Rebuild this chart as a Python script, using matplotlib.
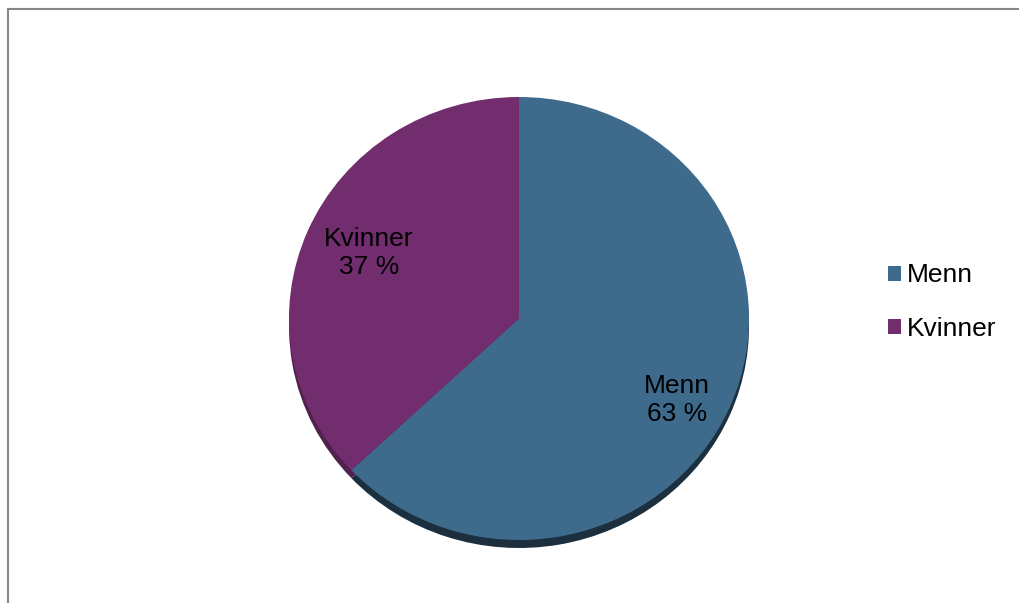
import matplotlib.pyplot as plt
from matplotlib.patches import Rectangle, Patch

plt.rcParams['font.family'] = ['Liberation Sans', 'DejaVu Sans']

# andel etter kjønn
labels = ['Menn', 'Kvinner']
shares = [63, 37]
colors = ['#3e6b8b', '#722d6f']
shadow_colors = ['#1b2f3e', '#52224f']

W, H = 1019, 603
fig = plt.figure(figsize=(W / 100, H / 100), dpi=100)


def px_axes(x0, y0, x1, y1):
    # axes placed by pixel box (y counted from the top)
    return fig.add_axes([x0 / W, 1 - y1 / H, (x1 - x0) / W, (y1 - y0) / H])


# grey chart frame, running off the right and bottom edges
fig.patches.append(Rectangle((8 / W, -0.5), 1.2, 1.5 - 9 / H, transform=fig.transFigure,
                             fill=False, edgecolor='#878787', lw=1.5))

# pie: horizontal radius 230 px, vertical 221.5 px -> slight tilt
rx, ry, pad = 230, 221.5, 20
cx, cy = 519, 318.5
ax = px_axes(cx - rx - pad, cy - ry - pad, cx + rx + pad, cy + ry + pad)

# dark rim below the pie
ax.pie(shares, colors=shadow_colors, startangle=90, counterclock=False,
       center=(0, -8 / ry), wedgeprops=dict(linewidth=0))
wedges, _, texts = ax.pie(
    shares, colors=colors, startangle=90, counterclock=False,
    autopct=lambda p: '', pctdistance=0.75, wedgeprops=dict(linewidth=0))

label_pos = {'Menn': (677, 400), 'Kvinner': (369, 253)}
for name, share, t in zip(labels, shares, texts):
    px, py = label_pos[name]
    t.set_text(f'{name}\n{share} %')
    t.set_position(((px - cx) / rx, (cy - py) / ry))
    t.set_fontsize(19)
    t.set_linespacing(1.2)
    t.set_ha('center')
    t.set_va('center')

ax.set_aspect('auto')
ax.set_xlim(-1 - pad / rx, 1 + pad / rx)
ax.set_ylim(-1 - pad / ry, 1 + pad / ry)
ax.axis('off')

handles = [Patch(facecolor=c, edgecolor='none') for c in colors]
fig.legend(handles, labels, loc='center left', bbox_to_anchor=(888 / W, 1 - 302 / H),
           frameon=False, fontsize=19, handlelength=0.5, handleheight=0.5,
           handletextpad=0.2, labelspacing=1.1, borderpad=0, borderaxespad=0)

fig.savefig('out.png', dpi=100)
